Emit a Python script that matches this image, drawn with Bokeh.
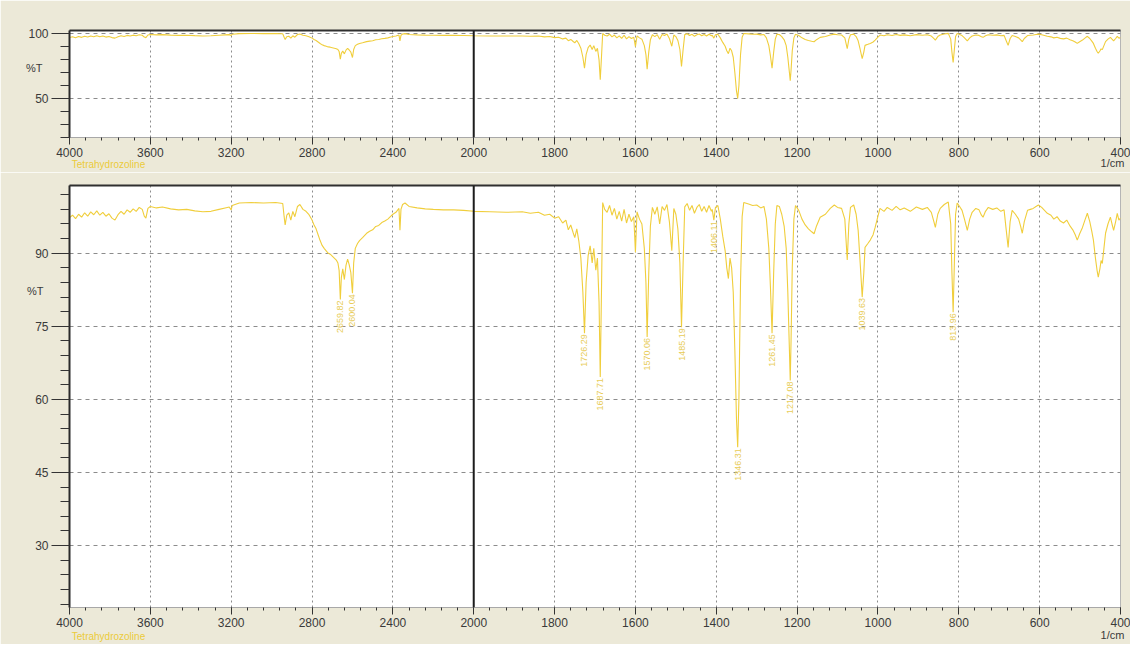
import math
from bokeh.plotting import figure
from bokeh.models import FixedTicker, Span, LinearAxis, Range1d, ColumnDataSource
from bokeh.layouts import column
from bokeh.core.properties import value
from bokeh.embed import file_html
from bokeh.resources import INLINE

# ---------------- data ----------------
wavenumber = [
    4000, 3985, 3970, 3955, 3940, 3925, 3910, 3895, 3880, 3865, 3850, 3835, 3820, 3805, 3790, 3775,
    3760, 3745, 3730, 3715, 3700, 3685, 3670, 3655, 3640, 3630, 3622, 3612, 3600, 3570, 3540, 3500,
    3460, 3420, 3380, 3340, 3300, 3260, 3230, 3210, 3200, 3195, 3160, 3100, 3040, 2980, 2945, 2938,
    2933, 2925, 2915, 2905, 2895, 2885, 2872, 2860, 2845, 2830, 2815, 2800, 2790, 2780, 2770, 2760,
    2750, 2740, 2730, 2720, 2710, 2700, 2690, 2680, 2672, 2666, 2660, 2655, 2648, 2640, 2632, 2624,
    2616, 2608, 2600, 2594, 2586, 2575, 2565, 2550, 2530, 2515, 2500, 2485, 2470, 2455, 2440, 2425,
    2410, 2400, 2385, 2370, 2365, 2360, 2352, 2340, 2320, 2280, 2240, 2200, 2150, 2100, 2050, 2000,
    1960, 1920, 1880, 1860, 1840, 1825, 1812, 1800, 1790, 1780, 1772, 1766, 1760, 1754, 1750, 1745,
    1740, 1735, 1730, 1726, 1722, 1717, 1712, 1707, 1703, 1698, 1694, 1690, 1687, 1684, 1681, 1676,
    1670, 1664, 1658, 1652, 1646, 1640, 1634, 1628, 1622, 1616, 1610, 1604, 1600, 1596, 1590, 1584,
    1578, 1574, 1571, 1567, 1563, 1558, 1552, 1546, 1540, 1534, 1528, 1522, 1516, 1510, 1505, 1500,
    1495, 1490, 1486, 1482, 1478, 1472, 1466, 1460, 1454, 1448, 1442, 1436, 1430, 1424, 1418, 1412,
    1410, 1406, 1402, 1396, 1390, 1384, 1378, 1374, 1370, 1366, 1362, 1358, 1354, 1350, 1347, 1344,
    1340, 1336, 1332, 1320, 1310, 1300, 1290, 1282, 1276, 1270, 1266, 1262, 1258, 1254, 1250, 1244,
    1238, 1232, 1227, 1223, 1219, 1217, 1215, 1212, 1208, 1204, 1196, 1188, 1180, 1172, 1164, 1158,
    1152, 1143, 1130, 1118, 1108, 1100, 1090, 1082, 1076, 1072, 1068, 1060, 1054, 1049, 1044, 1039,
    1035, 1032, 1025, 1019, 1012, 1007, 1000, 995, 985, 977, 965, 955, 945, 935, 920, 905,
    890, 878, 868, 862, 858, 852, 846, 836, 826, 820, 817, 814, 811, 808, 804, 798,
    792, 786, 779, 773, 767, 758, 750, 744, 740, 734, 727, 716, 706, 696, 688, 683,
    678, 673, 668, 660, 652, 647, 643, 638, 630, 623, 616, 609, 603, 595, 588, 581,
    572, 565, 557, 549, 541, 533, 525, 518, 512, 507, 501, 494, 488, 482, 476, 471,
    467, 462, 458, 455, 451, 448, 445, 441, 437, 431, 425, 421, 417, 412, 408, 404,
    400,
]
transmittance = [
    97.3, 97.8, 97.1, 98.0, 97.4, 98.3, 97.6, 98.5, 97.9, 98.7, 97.8, 98.4, 97.6, 98.1, 97.2, 96.8,
    97.9, 98.6, 98.0, 98.9, 98.4, 99.1, 98.6, 99.4, 99.0, 97.6, 97.2, 99.2, 99.6, 99.3, 99.5, 99.1,
    98.9, 99.0, 98.7, 98.5, 98.6, 99.0, 99.3, 99.5, 98.9, 99.8, 100.3, 100.4, 100.3, 100.4, 100.2, 97.5,
    95.8, 97.8, 98.3, 96.8, 98.6, 97.5, 99.6, 100.0, 99.0, 98.6, 97.9, 96.8, 95.8, 95.0, 93.8, 92.6,
    91.6, 91.0, 90.5, 90.0, 89.8, 89.4, 89.0, 88.6, 88.0, 86.5, 80.5, 85.0, 86.8, 84.6, 87.5, 88.8,
    87.6, 86.0, 81.8, 88.0, 91.0, 92.0, 92.6, 93.2, 94.1, 94.5, 94.8, 95.5, 95.7, 96.3, 96.6, 97.0,
    97.6, 98.0, 98.4, 99.2, 94.7, 99.0, 100.0, 100.3, 99.6, 99.3, 99.1, 99.0, 98.9, 98.9, 98.8, 98.6,
    98.5, 98.4, 98.5, 98.2, 98.4, 97.8, 98.0, 97.2, 97.5, 96.2, 96.8, 94.8, 95.8, 94.2, 93.2, 95.0,
    92.5, 89.0, 82.0, 73.6, 84.0, 89.5, 91.5, 88.0, 91.0, 86.5, 89.0, 80.0, 64.6, 82.0, 100.4, 99.0,
    98.4, 99.8, 97.8, 99.2, 97.0, 98.6, 96.6, 99.0, 96.2, 98.0, 96.5, 97.5, 90.2, 98.5, 97.0, 96.0,
    91.0, 84.0, 72.8, 86.0, 95.5, 99.4, 98.0, 99.5, 96.0, 99.6, 98.8, 100.0, 96.5, 90.5, 99.2, 98.0,
    95.0, 88.0, 74.8, 88.0, 99.5, 100.2, 98.8, 99.8, 98.2, 99.4, 100.0, 98.6, 99.6, 98.4, 99.8, 98.6,
    99.0, 96.8, 99.4, 99.8, 97.0, 93.5, 90.5, 87.0, 84.8, 89.0, 87.0, 82.0, 70.0, 56.0, 50.2, 60.0,
    84.0, 97.5, 100.4, 100.1, 99.8, 99.9, 99.3, 99.6, 97.0, 91.0, 83.0, 73.6, 86.0, 96.0, 99.8, 99.6,
    98.0, 95.5, 91.0, 82.0, 70.0, 63.9, 72.0, 87.0, 97.0, 99.8, 98.8, 97.0, 95.8, 95.0, 94.4, 94.0,
    95.6, 97.4, 98.0, 99.2, 99.9, 99.4, 99.2, 97.0, 88.6, 96.0, 99.4, 99.9, 98.0, 94.7, 88.0, 81.0,
    86.0, 91.2, 92.0, 92.7, 93.8, 95.3, 97.6, 99.2, 98.6, 99.4, 98.8, 99.6, 98.9, 99.3, 98.6, 99.5,
    99.0, 99.4, 98.4, 96.6, 95.3, 98.0, 99.2, 100.0, 100.5, 96.0, 86.0, 77.9, 88.0, 98.0, 100.3, 99.6,
    98.8, 97.0, 94.7, 97.0, 98.4, 99.2, 98.9, 97.8, 97.4, 98.6, 99.4, 99.0, 99.3, 98.6, 98.9, 95.0,
    91.2, 96.5, 98.8, 98.0, 97.0, 95.5, 94.1, 96.5, 98.8, 99.0, 99.2, 99.6, 99.9, 99.4, 98.8, 98.2,
    97.8, 97.0, 97.5, 96.6, 96.2, 96.8, 95.6, 94.8, 93.8, 92.7, 94.0, 95.3, 96.8, 98.2, 96.5, 94.5,
    92.7, 89.0, 86.5, 85.1, 86.8, 88.5, 87.9, 91.0, 94.1, 96.0, 97.4, 96.0, 94.7, 96.5, 98.2, 96.8,
    97.2,
]

peak_wavenumber = [2660, 2600, 1726, 1687, 1571, 1486, 1406, 1347, 1262, 1217, 1039, 814]
peak_labels = ["2659.82", "2600.04", "1726.29", "1687.71", "1570.06", "1485.19",
               "1406.11", "1346.31", "1261.45", "1217.08", "1039.63", "813.96"]

x_tick_values = [4000, 3600, 3200, 2800, 2400, 2000, 1800, 1600, 1400, 1200, 1000, 800, 600, 400]
top_y_ticks = [50, 100]
top_y_minor = [20, 30, 40, 50, 60, 70, 80, 90, 100]
bottom_y_ticks = [30, 45, 60, 75, 90]
bottom_y_minor = [18, 21, 24, 27, 30, 33, 36, 39, 42, 45, 48, 51, 54, 57, 60, 63, 66, 69, 72,
                  75, 78, 81, 84, 87, 90, 93, 96, 99, 102]
sample_name = "Tetrahydrozoline"
x_unit = "1/cm"
y_unit = "%T"

# ---------------- split wavenumber scale (4000-2000 compressed 2x) ----------------
def to_u(w):
    return 4000.0 - w if w >= 2000 else 2000.0 + 2.0 * (2000.0 - w)

U_MAX = to_u(400)
u_data = [to_u(w) for w in wavenumber]
t_lookup = dict(zip(wavenumber, transmittance))
peak_u = [to_u(w) for w in peak_wavenumber]
peak_t = [t_lookup[w] for w in peak_wavenumber]

major_u = [to_u(w) for w in x_tick_values]
minor_u = [i * 80.0 for i in range(int(U_MAX / 80) + 1)]

BG = "#ECE9D8"
LINE_C = "#F0CE3C"
LABEL_C = "#E8CC58"
NAME_C = "#EBCB3A"
TXT_C = "#3a3a3a"
FONT = "Liberation Sans"
FIG_W = 1130
B_LEFT = 69
B_RIGHT = 10
FRAME_W = FIG_W - B_LEFT - B_RIGHT
PX_PER_U = FRAME_W / U_MAX


def hidden_axis(tick, text, color, size, standoff):
    ax = LinearAxis(ticker=FixedTicker(ticks=[tick]),
                    major_label_overrides={tick: text},
                    axis_line_color=None, major_tick_line_color=None,
                    minor_tick_line_color=None,
                    major_tick_out=0, major_tick_in=0, minor_tick_out=0, minor_tick_in=0,
                    major_label_standoff=standoff,
                    major_label_text_font=FONT, major_label_text_font_size=size,
                    major_label_text_color=color)
    return ax


def make_panel(height, b_top, b_bottom, y0, y1, yticks, yminor, pct_y, pct_standoff,
               unit_standoff, name_standoff, with_peaks):
    p = figure(width=FIG_W, height=height, output_backend="svg", toolbar_location=None,
               x_range=Range1d(0, U_MAX), y_range=Range1d(y0, y1),
               min_border_left=B_LEFT, min_border_right=B_RIGHT,
               min_border_top=b_top, min_border_bottom=b_bottom,
               background_fill_color="white", border_fill_color=BG,
               outline_line_color="#B5B5B5", outline_line_width=1)

    # x axis
    xa = p.xaxis[0]
    xa.ticker = FixedTicker(ticks=major_u, minor_ticks=minor_u)
    xa.major_label_overrides = {u: str(w) for u, w in zip(major_u, x_tick_values)}
    xa.major_tick_out = 7
    xa.major_tick_in = 0
    xa.minor_tick_out = 3
    xa.minor_tick_in = 0
    xa.major_tick_line_color = "#333333"
    xa.minor_tick_line_color = "#333333"
    xa.axis_line_color = "#A8A8A8"
    xa.major_label_standoff = 3
    xa.major_label_text_font = FONT
    xa.major_label_text_font_size = "12px"
    xa.major_label_text_color = TXT_C

    # y axis
    ya = p.yaxis[0]
    ya.ticker = FixedTicker(ticks=yticks, minor_ticks=yminor)
    ya.major_tick_out = 18
    ya.major_tick_in = 0
    ya.minor_tick_out = 9
    ya.minor_tick_in = 0
    ya.major_tick_line_color = "#333333"
    ya.minor_tick_line_color = "#333333"
    ya.axis_line_color = "#2a2a2a"
    ya.axis_line_width = 2
    ya.major_label_standoff = 3
    ya.major_label_text_font = FONT
    ya.major_label_text_font_size = "12px"
    ya.major_label_text_color = TXT_C

    # "%T" beside the y axis
    p.add_layout(hidden_axis(pct_y, y_unit, TXT_C, "11px", pct_standoff), "left")
    # "1/cm" under the last tick, sample name under the first
    unit_u = U_MAX - 8 / PX_PER_U
    name_u = 39 / PX_PER_U
    p.add_layout(hidden_axis(unit_u, x_unit, TXT_C, "11px", unit_standoff), "below")
    p.add_layout(hidden_axis(name_u, sample_name, NAME_C, "10px", name_standoff), "below")

    # dark top edge of the frame
    top = LinearAxis(ticker=FixedTicker(ticks=[]), axis_line_color="#303030", axis_line_width=2,
                     major_tick_out=0, major_tick_in=0, minor_tick_out=0, minor_tick_in=0,
                     major_label_text_font_size="0px")
    p.add_layout(top, "above")

    # grids
    p.xgrid.grid_line_color = "#8c8c8c"
    p.xgrid.grid_line_dash = "2 3"
    p.ygrid.grid_line_color = "#8c8c8c"
    p.ygrid.grid_line_dash = "4 4"

    p.add_layout(Span(location=to_u(2000), dimension="height", line_color="#1c1c1c", line_width=2))

    p.line(u_data, transmittance, line_color=LINE_C, line_width=1.1)

    if with_peaks:
        src = ColumnDataSource(dict(x=peak_u, y=peak_t, t=peak_labels))
        p.text(x="x", y="y", text="t", source=src, angle=math.pi / 2,
               text_align="right", text_baseline="middle", y_offset=1,
               text_font=value(FONT), text_font_size="9px", text_color=LABEL_C)
    return p


p_top = make_panel(172, 30, 33, 19.9, 102.7, top_y_ticks, top_y_minor,
                   74, -17, -3, -13, False)
p_bot = make_panel(472, 13, 36, 17.3, 103.9, bottom_y_ticks, bottom_y_minor,
                   82.3, -11, -1, -13, True)

layout = column(p_top, p_bot, spacing=0)

open("out.html", "w").write(file_html(layout, INLINE))
